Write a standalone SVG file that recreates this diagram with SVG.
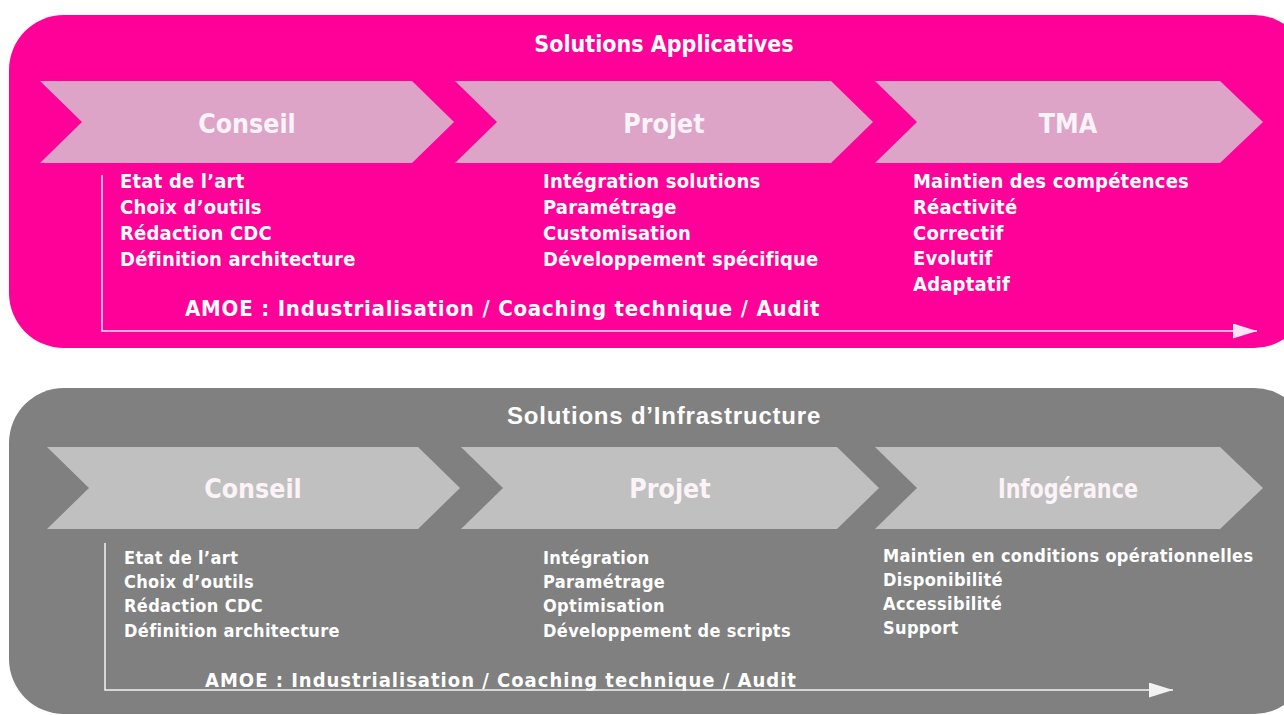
<svg xmlns="http://www.w3.org/2000/svg" width="1284" height="715" viewBox="0 0 1284 715">
<style>
.t{font-family:"DejaVu Sans Condensed","DejaVu Sans",sans-serif;font-weight:bold;fill:#FFFFFF}
.hd{font-size:26.5px;text-anchor:middle;fill:#FBF3F8}
.li1{font-size:20px;letter-spacing:0.2px}
.li2{font-size:18px;letter-spacing:0.35px}
.pinkbox{fill:#FF0099}
.graybox{fill:#808080}
.chp{fill:#DDA4C8}
.chg{fill:#C0C0C0}
.fl1{fill:none;stroke:#FFE4F2;stroke-width:1.5}
.fl2{fill:none;stroke:#F2F2F2;stroke-width:1.5}
</style>
<defs>
<marker id="ahp" markerUnits="userSpaceOnUse" markerWidth="25" markerHeight="15" refX="24" refY="7.5" orient="auto"><path d="M0,0 L24,7.5 L0,15 z" fill="#FFE4F2"/></marker>
<marker id="ahg" markerUnits="userSpaceOnUse" markerWidth="25" markerHeight="15" refX="24" refY="7.5" orient="auto"><path d="M0,0 L24,7.5 L0,15 z" fill="#F2F2F2"/></marker>
</defs>
<rect width="1284" height="715" fill="#FFFFFF"/>

<g id="applicatives">
<rect class="pinkbox" x="9" y="15" width="1300" height="333" rx="55"/>
<text class="t" x="664" y="52" font-size="23" text-anchor="middle">Solutions Applicatives</text>
</g>

<g id="app-conseil">
<polygon class="chp" points="40,81 412,81 454,122 412,163 40,163 82,122"/>
<text class="t hd" x="247" y="133">Conseil</text>
<text class="t li1" x="120" y="188">Etat de l’art</text>
<text class="t li1" x="120" y="214">Choix d’outils</text>
<text class="t li1" x="120" y="240">Rédaction CDC</text>
<text class="t li1" x="120" y="266">Définition architecture</text>
</g>

<g id="app-projet">
<polygon class="chp" points="455,81 831,81 873,122 831,163 455,163 497,122"/>
<text class="t hd" x="664" y="133">Projet</text>
<text class="t li1" x="543" y="188">Intégration solutions</text>
<text class="t li1" x="543" y="214">Paramétrage</text>
<text class="t li1" x="543" y="240">Customisation</text>
<text class="t li1" x="543" y="266">Développement spécifique</text>
</g>

<g id="app-tma">
<polygon class="chp" points="875,81 1220,81 1263,122 1220,163 875,163 917,122"/>
<text class="t hd" x="1068" y="133">TMA</text>
<text class="t li1" x="913" y="188">Maintien des compétences</text>
<text class="t li1" x="913" y="214">Réactivité</text>
<text class="t li1" x="913" y="240">Correctif</text>
<text class="t li1" x="913" y="265">Evolutif</text>
<text class="t li1" x="913" y="291">Adaptatif</text>
</g>

<g id="app-amoe">
<text class="t" x="185" y="316" font-size="22" letter-spacing="0.8">AMOE : Industrialisation / Coaching technique / Audit</text>
</g>

<g id="infrastructure">
<rect class="graybox" x="9" y="388" width="1300" height="326" rx="55"/>
<text x="664" y="424" font-family="'Liberation Sans',Arial,sans-serif" font-weight="bold" font-size="24" letter-spacing="0.8" fill="#FFFFFF" text-anchor="middle">Solutions d’Infrastructure</text>
</g>

<g id="inf-conseil">
<polygon class="chg" points="47,447 418,447 460,488 418,529 47,529 89,488"/>
<text class="t hd" x="253" y="498" font-size="24">Conseil</text>
<text class="t li2" x="124" y="564">Etat de l’art</text>
<text class="t li2" x="124" y="588">Choix d’outils</text>
<text class="t li2" x="124" y="612">Rédaction CDC</text>
<text class="t li2" x="124" y="637">Définition architecture</text>
</g>

<g id="inf-projet">
<polygon class="chg" points="461,447 837,447 879,488 837,529 461,529 503,488"/>
<text class="t hd" x="670" y="498" font-size="24">Projet</text>
<text class="t li2" x="543" y="564">Intégration</text>
<text class="t li2" x="543" y="588">Paramétrage</text>
<text class="t li2" x="543" y="612">Optimisation</text>
<text class="t li2" x="543" y="637">Développement de scripts</text>
</g>

<g id="inf-infogerance">
<polygon class="chg" points="875,447 1220,447 1263,488 1220,529 875,529 917,488"/>
<text class="t hd" x="1068" y="498" font-size="24" textLength="140" lengthAdjust="spacingAndGlyphs">Infogérance</text>
<text class="t li2" x="883" y="562">Maintien en conditions opérationnelles</text>
<text class="t li2" x="883" y="586">Disponibilité</text>
<text class="t li2" x="883" y="610">Accessibilité</text>
<text class="t li2" x="883" y="634">Support</text>
</g>

<g id="inf-amoe">
<text class="t" x="205" y="687" font-size="20" letter-spacing="1">AMOE : Industrialisation / Coaching technique / Audit</text>
</g>

<g id="connectors">
<polyline class="fl1" points="102,175 102,331 1257,331" marker-end="url(#ahp)"/>
<polyline class="fl2" points="105,543 105,690 1173,690" marker-end="url(#ahg)"/>
</g>
</svg>
